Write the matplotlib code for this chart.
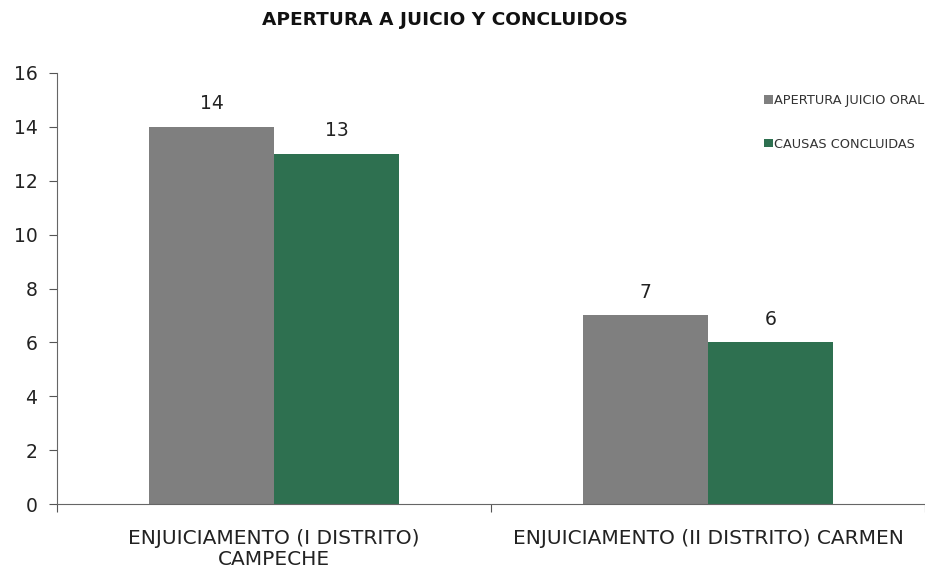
import matplotlib
matplotlib.use("Agg")
import matplotlib.pyplot as plt
import numpy as np

categories = ["ENJUICIAMENTO (I DISTRITO)\nCAMPECHE", "ENJUICIAMENTO (II DISTRITO) CARMEN"]
series_names = ["APERTURA JUICIO ORAL", "CAUSAS CONCLUIDAS"]
apertura = [14, 7]
concluidas = [13, 6]
colors = ["#7f7f7f", "#2e7050"]
title = "APERTURA A JUICIO Y CONCLUIDOS"

plt.rcParams['font.family'] = ['DejaVu Sans']
fig = plt.figure(figsize=(9.25, 5.71), dpi=100)
ax = fig.add_axes([57/925, 1-504/571, 1-57/925, (504-73)/571])

x = np.arange(len(categories))
w = 0.288
b1 = ax.bar(x - w/2, apertura, w, color=colors[0], label=series_names[0])
b2 = ax.bar(x + w/2, concluidas, w, color=colors[1], label=series_names[1])
for bars in (b1, b2):
    for r in bars:
        ax.text(r.get_x() + r.get_width()/2, r.get_height() + 0.5, f"{int(r.get_height())}",
                ha="center", va="bottom", fontsize=13.5, color="#222222")

ax.set_xlim(-0.5, 1.5)
ax.set_ylim(0, 16)
ax.set_yticks(range(0, 17, 2))
ax.set_xticks([-0.5, 0.5, 1.5])
ax.set_xticklabels([])
ax.set_xticks(x, minor=True)
ax.set_xticklabels(categories, minor=True, fontsize=14.5, color="#222222", linespacing=1.15)
ax.tick_params(axis="x", which="minor", length=0, pad=18)
ax.tick_params(axis="x", which="major", length=6, color="#555555")
ax.tick_params(axis="y", length=6, color="#555555", labelsize=13.5, labelcolor="#222222", pad=8)
for s in ["top", "right"]:
    ax.spines[s].set_visible(False)
for s in ["left", "bottom"]:
    ax.spines[s].set_color("#666666")

leg = ax.legend(loc="upper left", bbox_to_anchor=(759/925, 1-89/571), bbox_transform=fig.transFigure,
                frameon=False, fontsize=9.3, handlelength=0.65, handleheight=0.65, handletextpad=0.15,
                labelspacing=2.35, borderaxespad=0)
for t in leg.get_texts():
    t.set_color("#333333")

fig.text(445/925, 1-20/571, title, ha="center", va="center", fontsize=13.3, fontweight="bold", color="#111111")

fig.savefig("out.png", dpi=100)
